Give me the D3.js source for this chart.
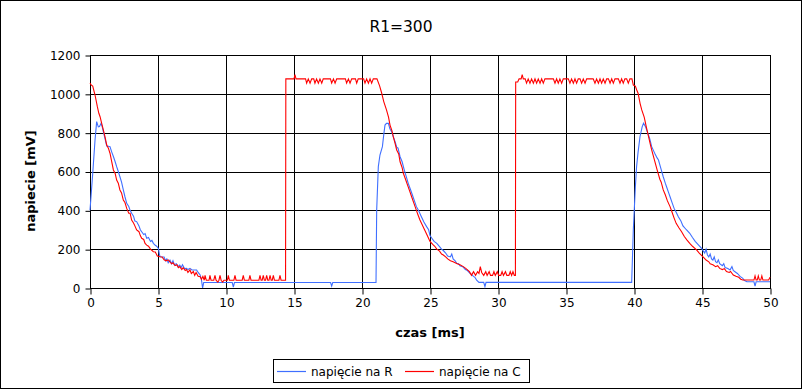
<!DOCTYPE html>
<html><head><meta charset="utf-8">
<script src="https://cdn.jsdelivr.net/npm/d3@7"></script>
<style>body{margin:0;background:#fff}svg{display:block}text{font-family:"DejaVu Sans",sans-serif}</style>
</head><body>
<svg id="c" width="803" height="390"></svg>
<script>
const title = "R1=300";
const xLabel = "czas [ms]";
const yLabel = "napiecie [mV]";
const seriesNames = ["napięcie na R", "napięcie na C"];
const xTicks = [0,5,10,15,20,25,30,35,40,45,50];
const yTicks = [0,200,400,600,800,1000,1200];

// napięcie na R  [t (ms), mV]
const napR = [
[0,400],[0.2,590],[0.37,762],[0.49,857],[0.61,830],[0.7,832],[0.81,848],[0.9,830],[0.98,805],[1.1,770],[1.23,731],[1.35,730],[1.47,728],[1.6,700],[1.72,677],[1.85,650],[1.96,625],[2.08,600],[2.2,573],[2.32,545],[2.45,505],[2.57,470],[2.7,436],[2.85,420],[2.95,400],[3.06,385],[3.2,370],[3.3,345],[3.43,342],[3.6,320],[3.7,300],[3.8,290],[3.95,275],[4.05,280],[4.17,256],[4.3,260],[4.45,240],[4.55,245],[4.66,230],[4.8,220],[4.9,215],[5.03,204],[5.1,175],[5.15,161],[5.3,160],[5.45,160],[5.55,140],[5.65,150],[5.75,130],[5.88,144],[6.0,125],[6.1,140],[6.2,120],[6.35,125],[6.45,110],[6.6,118],[6.7,105],[6.8,120],[6.95,100],[7.1,101],[7.2,95],[7.35,101],[7.5,93],[7.6,93],[7.75,93],[7.84,93],[7.95,80],[8.1,67],[8.2,40],[8.28,0],[8.36,28],
[10.46,28],[10.54,5],[10.62,28],[17.69,28],[17.77,10],[17.85,28],
[21.03,29],[21.08,402],[21.2,625],[21.32,685],[21.5,728],[21.6,790],[21.69,839],[21.8,848],[21.94,848],[22.05,820],[22.18,805],[22.3,779],[22.45,750],[22.55,725],[22.65,720],[22.8,676],[22.95,650],[23.1,610],[23.25,575],[23.4,539],[23.55,510],[23.7,480],[23.85,450],[24.0,419],[24.15,400],[24.35,370],[24.55,340],[24.75,316],[24.9,300],[25.0,270],[25.15,255],[25.3,240],[25.5,230],[25.7,213],[25.85,200],[25.98,193],[26.15,180],[26.3,165],[26.5,160],[26.6,175],[26.7,150],[26.85,140],[26.96,127],[27.1,125],[27.2,115],[27.4,110],[27.6,95],[27.75,90],[27.94,76],[28.05,70],[28.2,60],[28.3,55],[28.43,41],[28.6,29],[28.95,29],[29.04,7],[29.12,29],
[39.83,29],[39.95,300],[40.1,520],[40.19,625],[40.3,700],[40.44,779],[40.6,830],[40.7,848],[40.85,830],[41.0,800],[41.15,770],[41.3,728],[41.45,705],[41.55,690],[41.7,670],[41.8,659],[42.0,610],[42.15,573],[42.3,540],[42.4,520],[42.55,490],[42.65,470],[42.8,440],[42.95,410],[43.1,390],[43.26,367],[43.45,345],[43.6,320],[43.85,300],[44.1,282],[44.3,260],[44.5,240],[44.7,225],[44.97,204],[45.1,190],[45.2,180],[45.3,200],[45.4,170],[45.5,160],[45.6,175],[45.7,150],[45.8,144],[45.9,160],[46.0,135],[46.1,130],[46.2,145],[46.3,125],[46.5,115],[46.6,125],[46.7,105],[46.9,100],[47.06,93],[47.2,110],[47.3,90],[47.4,85],[47.6,75],[47.8,60],[48.0,50],[48.1,40],[48.3,32],[48.82,32],[48.9,10],[48.98,32],[50,32]
];

// napięcie na C  [t (ms), mV]
const napC = [
[0,1055],[0.1,1045],[0.2,1040],[0.37,994],[0.54,934],[0.65,900],[0.74,882],[0.85,850],[0.98,814],[1.1,780],[1.23,736],[1.35,720],[1.47,694],[1.6,650],[1.72,608],[1.85,590],[1.96,556],[2.08,540],[2.2,505],[2.32,490],[2.45,453],[2.57,440],[2.7,410],[2.85,385],[2.95,385],[3.06,350],[3.2,335],[3.3,320],[3.43,299],[3.6,290],[3.7,270],[3.8,256],[3.95,250],[4.05,230],[4.17,221],[4.3,215],[4.45,200],[4.66,187],[4.8,185],[4.95,165],[5.15,161],[5.3,160],[5.45,145],[5.6,140],[5.75,145],[5.88,135],[6.0,125],[6.1,130],[6.25,115],[6.4,120],[6.5,105],[6.6,110],[6.75,95],[6.85,105],[7.0,90],[7.1,95],[7.2,80],[7.35,93],[7.45,75],[7.6,85],[7.7,65],[7.8,80],[7.95,60],[8.1,58],[8.2,45],[8.3,60],[8.4,40],
[8.46,65],[8.55,40],[8.75,40],[8.82,65],[8.9,40],[9.1,40],[9.19,65],[9.27,40],[9.4,30],[9.48,40],[9.56,65],[9.64,40],[9.75,30],[9.85,40],[10.1,40],[10.17,65],[10.25,40],[10.58,40],[10.66,65],[10.74,40],[11.19,40],[11.27,65],[11.35,40],[11.68,40],[11.76,65],[11.84,40],[12.42,40],[12.5,65],[12.58,40],[12.66,40],[12.74,65],[12.82,40],[12.91,40],[12.99,65],[13.07,40],[13.16,40],[13.24,65],[13.32,40],[13.4,40],[13.48,65],[13.56,40],[13.89,40],[13.97,65],[14.05,40],[14.38,40],
[14.4,1077],[15.0,1077],[15.07,1099],[15.15,1077],[15.85,1077],[15.93,1055],[16.05,1077],[16.18,1055],[16.3,1077],[16.45,1077],[16.54,1055],[16.66,1077],[16.79,1055],[16.91,1077],[17.04,1055],[17.15,1077],[17.68,1077],[17.77,1055],[17.9,1077],[18.02,1055],[18.14,1077],[18.78,1077],[18.87,1055],[19.0,1077],[19.12,1055],[19.24,1077],[19.52,1077],[19.61,1055],[19.72,1077],[20.12,1077],[20.22,1055],[20.34,1077],[20.47,1055],[20.59,1077],[20.71,1055],[20.83,1077],[21.1,1077],
[21.3,1040],[21.45,1003],[21.6,960],[21.8,917],[21.95,880],[22.06,839],[22.2,810],[22.3,780],[22.45,740],[22.55,711],[22.7,690],[22.8,650],[22.95,620],[23.04,591],[23.2,560],[23.35,530],[23.5,500],[23.65,470],[23.8,440],[23.95,410],[24.1,380],[24.26,350],[24.4,330],[24.6,300],[24.8,270],[25.0,240],[25.2,225],[25.35,215],[25.5,200],[25.7,190],[25.85,175],[25.98,170],[26.15,160],[26.3,150],[26.5,140],[26.7,135],[26.85,130],[27.0,125],[27.2,120],[27.45,110],[27.65,100],[27.9,84],[28.05,65],[28.2,84],[28.35,65],[28.5,84],[28.6,75],[28.7,110],[28.8,80],[28.95,65],[29.1,84],[29.2,65],[29.35,84],[29.45,65],[29.6,65],[29.7,84],[29.8,65],[29.95,84],[30.05,65],[30.2,65],[30.3,84],[30.4,65],[30.55,84],[30.65,65],[30.8,65],[30.9,84],[31.0,65],[31.1,84],[31.2,65],[31.28,65],
[31.3,1061],[31.45,1061],[31.55,1077],[31.7,1077],[31.78,1099],[31.86,1077],[32.0,1077],[32.1,1055],[32.22,1077],[32.35,1055],[32.47,1077],[32.6,1055],[32.72,1077],[32.84,1055],[32.96,1077],[33.09,1055],[33.21,1077],[33.33,1055],[33.45,1077],[34.07,1077],[34.19,1055],[34.31,1077],[34.43,1055],[34.55,1077],[34.68,1055],[34.8,1077],[35.17,1077],[35.29,1055],[35.41,1077],[35.54,1055],[35.66,1077],[35.78,1055],[35.9,1077],[36.03,1077],[36.15,1055],[36.27,1077],[36.4,1055],[36.52,1077],[37.0,1077],[37.13,1055],[37.25,1077],[37.38,1055],[37.5,1077],[37.62,1055],[37.74,1077],[37.87,1055],[37.99,1077],[38.12,1077],[38.24,1055],[38.36,1077],[38.48,1055],[38.6,1077],[38.85,1077],[38.97,1055],[39.09,1077],[39.21,1055],[39.33,1077],[39.46,1077],[39.58,1055],[39.7,1077],[39.85,1077],
[39.95,1045],[40.1,1040],[40.2,1020],[40.3,1003],[40.45,950],[40.57,917],[40.75,880],[40.9,831],[41.0,800],[41.1,770],[41.2,740],[41.3,711],[41.5,660],[41.7,608],[41.9,560],[42.0,545],[42.15,505],[42.3,480],[42.45,450],[42.65,419],[42.8,390],[42.95,360],[43.1,333],[43.3,310],[43.5,290],[43.7,265],[43.9,247],[44.1,230],[44.3,215],[44.6,196],[44.8,180],[45.0,165],[45.15,155],[45.3,144],[45.5,135],[45.6,125],[45.8,120],[46.0,110],[46.15,115],[46.3,101],[46.5,95],[46.65,100],[46.8,85],[47.0,80],[47.1,85],[47.3,67],[47.5,60],[47.7,55],[47.85,45],[48.0,41],[48.82,41],[48.9,62],[48.98,41],[49.06,41],[49.14,62],[49.22,41],[49.32,41],[49.4,62],[49.48,41],[49.9,41],[50,55]
];

const W = 803, H = 390;
const plot = {left: 90, right: 770, top: 55, bottom: 288};
const svg = d3.select("#c");

const x = d3.scaleLinear().domain([0, 50]).range([plot.left, plot.right]);
const y = d3.scaleLinear().domain([0, 1200]).range([plot.bottom, plot.top]);

// outer frame
svg.append("rect").attr("x",0.5).attr("y",0.5).attr("width",W-2).attr("height",H-2)
  .attr("fill","#fff").attr("stroke","#000").attr("stroke-width",1);

// title
svg.append("text").attr("x",401).attr("y",32).attr("text-anchor","middle")
  .attr("font-size",15.5).attr("fill","#000").text(title);

// grid
const g = svg.append("g");
g.selectAll("line.h").data(yTicks).join("line")
  .attr("x1",plot.left).attr("x2",plot.right)
  .attr("y1",d=>Math.round(y(d))+0.5).attr("y2",d=>Math.round(y(d))+0.5)
  .attr("stroke","#000").attr("stroke-width",1);
g.selectAll("line.v").data(xTicks).join("line")
  .attr("y1",plot.top).attr("y2",plot.bottom)
  .attr("x1",d=>Math.round(x(d))+0.5).attr("x2",d=>Math.round(x(d))+0.5)
  .attr("stroke","#000").attr("stroke-width",1);

// axes
const yAxis = d3.axisLeft(y).tickValues(yTicks).tickSize(5).tickPadding(5).tickFormat(d3.format("d"));
const xAxis = d3.axisBottom(x).tickValues(xTicks).tickSize(6).tickPadding(4).tickFormat(d3.format("d"));
const ya = svg.append("g").attr("transform",`translate(${plot.left+0.5},0.5)`).call(yAxis);
const xa = svg.append("g").attr("transform",`translate(0.5,${plot.bottom+0.5})`).call(xAxis);
[ya, xa].forEach(a => {
  a.select(".domain").remove();
  a.selectAll("line").attr("stroke","#000");
  a.selectAll("text").attr("font-size",12).attr("fill","#000").attr("font-family","DejaVu Sans");
});
svg.append("line").attr("x1",plot.left+0.5).attr("x2",plot.left+0.5).attr("y1",plot.top).attr("y2",plot.bottom+1).attr("stroke","#000");
svg.append("line").attr("x1",plot.left).attr("x2",plot.right+1).attr("y1",plot.bottom+0.5).attr("y2",plot.bottom+0.5).attr("stroke","#000");

// axis labels
svg.append("text").attr("x",430).attr("y",337).attr("text-anchor","middle")
  .attr("font-size",13).attr("font-weight","bold").text(xLabel);
svg.append("text").attr("transform","translate(35,181) rotate(-90)").attr("text-anchor","middle")
  .attr("font-size",13).attr("font-weight","bold").text(yLabel);

// lines
const line = d3.line().x(d=>x(d[0])).y(d=>y(d[1]));
const colors = ["#3f6fff", "#ff0000"];
svg.append("path").datum(napR).attr("d",line).attr("fill","none").attr("stroke",colors[0]).attr("stroke-width",1.1);
svg.append("path").datum(napC).attr("d",line).attr("fill","none").attr("stroke",colors[1]).attr("stroke-width",1.1);

// legend
const lg = svg.append("g");
lg.append("rect").attr("x",273.5).attr("y",359.5).attr("width",256).attr("height",23)
  .attr("fill","#fff").attr("stroke","#000");
const items = [{x:277, tx:311}, {x:405, tx:439}];
items.forEach((it,i)=>{
  lg.append("line").attr("x1",it.x).attr("x2",it.x+29).attr("y1",371.5).attr("y2",371.5)
    .attr("stroke",colors[i]).attr("stroke-width",1.2);
  lg.append("text").attr("x",it.tx).attr("y",376).attr("font-size",12).attr("fill","#000").text(seriesNames[i]);
});
</script>
</body></html>
